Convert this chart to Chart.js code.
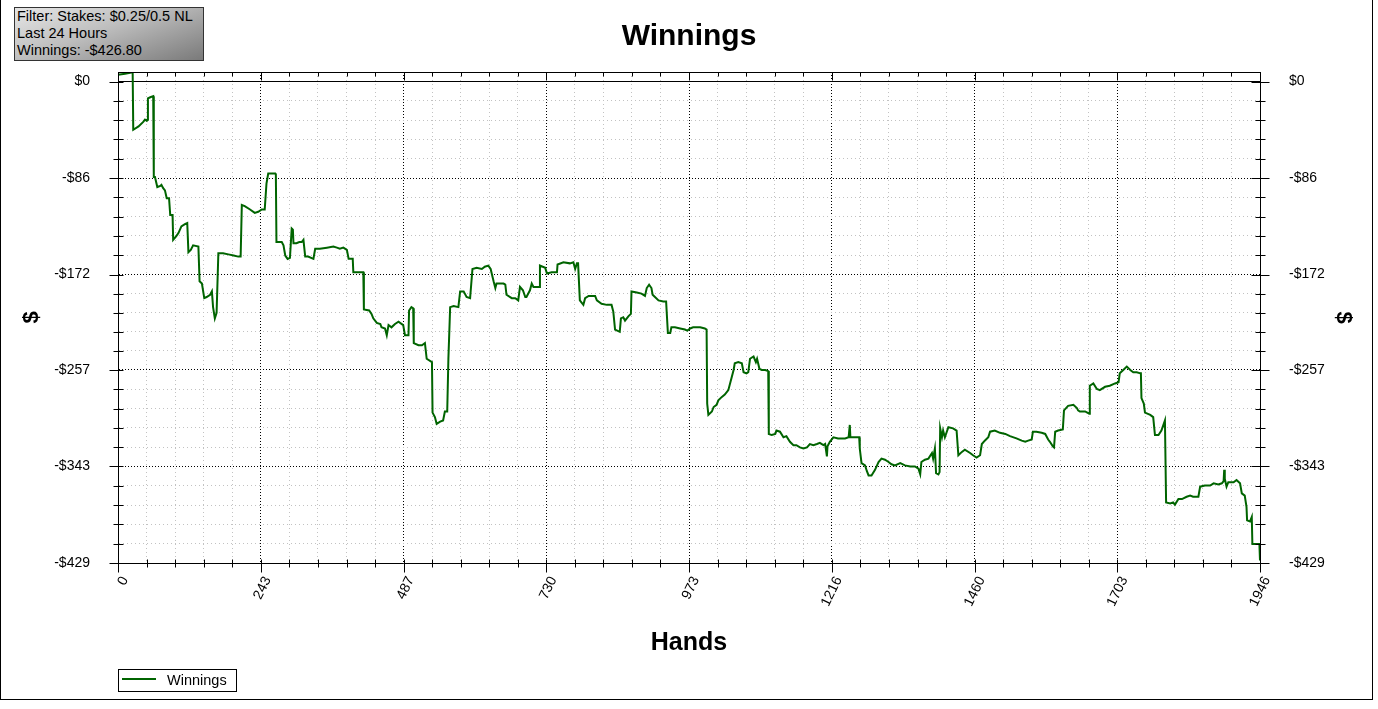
<!DOCTYPE html>
<html>
<head>
<meta charset="utf-8">
<title>Winnings</title>
<script src="https://cdn.jsdelivr.net/npm/chart.js@4.4.1/dist/chart.umd.min.js"></script>
<style>
body { margin:0; background:#fff; font-family:"Liberation Sans", Arial, sans-serif; }
#wrap { position:relative; width:1378px; height:709px; overflow:hidden; background:#fff; }
#chart { display:block; }
#frame { position:absolute; left:0; top:0; width:1373px; height:700px; box-sizing:border-box; border:1px solid #000; border-top:none; pointer-events:none; }
#info { position:absolute; left:14px; top:7px; width:190px; height:54px; box-sizing:border-box; border:1px solid #333;
        background:linear-gradient(160deg, #e6e6e6 0%, #bdbdbd 45%, #7a7a7a 100%);
        font-size:14.5px; line-height:17px; padding-left:2px; color:#000; white-space:nowrap; }
#legend { position:absolute; left:118px; top:669px; width:119px; height:23px; box-sizing:border-box; border:1px solid #000; background:#fff; }
#legend .swatch { position:absolute; left:3px; top:8px; width:34px; height:2px; background:#006400; }
#legend .label { position:absolute; left:48px; top:2px; font-size:14.5px; line-height:17px; color:#000; }
</style>
</head>
<body>
<div id="wrap">
  <canvas id="chart" width="1378" height="709"></canvas>
  <div id="frame"></div>
  <div id="info">Filter: Stakes: $0.25/0.5 NL<br>Last 24 Hours<br>Winnings: -$426.80</div>
  <div id="legend"><span class="swatch"></span><span class="label">Winnings</span></div>
</div>
<script>
//data: hand number and running winnings in $
const hands = [
  0, 12, 23, 25, 26, 35, 43, 46, 49, 50, 51, 55, 60, 61, 63, 67, 72, 74, 77, 80,
  83, 87, 89, 93, 94, 99, 103, 108, 114, 118, 120, 124, 128, 137, 139, 143, 147, 151, 157, 160,
  162, 165, 168, 171, 179, 188, 197, 205, 209, 211, 216, 225, 233, 239, 245, 250, 253, 256, 268, 269,
  270, 279, 282, 285, 289, 293, 296, 298, 299, 304, 309, 313, 316, 319, 324, 333, 336, 344, 356, 367,
  373, 378, 384, 390, 393, 400, 401, 418, 419, 428, 432, 435, 441, 447, 449, 455, 458, 461, 466, 472,
  478, 486, 489, 495, 496, 500, 503, 504, 512, 518, 523, 526, 535, 536, 540, 543, 549, 554, 557, 561,
  563, 566, 572, 580, 583, 589, 594, 600, 604, 611, 620, 625, 631, 635, 640, 643, 645, 657, 660, 662,
  671, 677, 682, 685, 690, 694, 696, 702, 705, 708, 714, 718, 719, 728, 731, 739, 748, 749, 759, 770,
  776, 779, 782, 784, 787, 793, 796, 802, 813, 816, 824, 833, 841, 844, 847, 855, 857, 861, 864, 870,
  874, 875, 884, 892, 898, 901, 905, 909, 911, 915, 921, 929, 934, 937, 941, 943, 949, 958, 966, 970,
  975, 980, 992, 1000, 1003, 1004, 1006, 1012, 1015, 1020, 1023, 1029, 1034, 1040, 1046, 1049, 1051, 1057, 1063, 1066,
  1071, 1074, 1077, 1083, 1087, 1089, 1093, 1097, 1103, 1108, 1109, 1114, 1120, 1122, 1128, 1134, 1139, 1145, 1151, 1156,
  1162, 1168, 1174, 1179, 1185, 1191, 1196, 1202, 1205, 1208, 1209, 1213, 1219, 1227, 1239, 1245, 1247, 1248, 1253, 1263,
  1264, 1267, 1273, 1276, 1279, 1284, 1290, 1296, 1301, 1307, 1313, 1318, 1324, 1333, 1341, 1350, 1358, 1364, 1367, 1369,
  1375, 1381, 1387, 1389, 1392, 1394, 1398, 1400, 1401, 1404, 1406, 1409, 1415, 1423, 1429, 1432, 1438, 1443, 1452, 1457,
  1463, 1469, 1472, 1477, 1483, 1486, 1494, 1503, 1512, 1520, 1531, 1540, 1546, 1551, 1557, 1559, 1565, 1574, 1580, 1585,
  1588, 1593, 1595, 1597, 1602, 1610, 1612, 1619, 1628, 1634, 1636, 1639, 1648, 1655, 1656, 1662, 1668, 1673, 1682, 1690,
  1699, 1705, 1707, 1713, 1719, 1725, 1730, 1736, 1742, 1743, 1744, 1748, 1750, 1759, 1764, 1767, 1773, 1778, 1784, 1786,
  1793, 1798, 1801, 1807, 1813, 1821, 1827, 1832, 1841, 1844, 1852, 1861, 1867, 1875, 1881, 1884, 1885, 1886, 1889, 1892,
  1901, 1906, 1912, 1915, 1920, 1923, 1924, 1929, 1932, 1933, 1940, 1945, 1946
];
const winnings = [
  6, 7, 8, 8, -43, -40, -36, -34, -35, -34, -15, -14, -13, -85, -85, -94, -93, -92, -95, -97,
  -104, -104, -119, -119, -141, -138, -135, -129, -127, -126, -152, -150, -146, -147, -178, -180, -193, -192, -190, -187,
  -201, -211, -206, -153, -153, -154, -155, -156, -156, -110, -111, -114, -117, -116, -114, -114, -91, -82, -82, -83,
  -143, -143, -146, -155, -158, -157, -131, -132, -144, -144, -143, -143, -141, -156, -156, -158, -149, -149, -148, -147,
  -148, -149, -148, -150, -158, -158, -170, -170, -203, -204, -207, -211, -215, -216, -219, -220, -226, -217, -219, -216,
  -214, -217, -226, -226, -204, -201, -202, -233, -235, -235, -233, -247, -250, -295, -299, -305, -303, -302, -294, -294,
  -247, -201, -200, -201, -187, -187, -192, -193, -167, -166, -167, -165, -164, -167, -178, -184, -180, -180, -181, -190,
  -193, -193, -195, -183, -186, -192, -192, -186, -180, -183, -183, -183, -164, -166, -171, -170, -170, -163, -161, -162,
  -161, -167, -162, -162, -195, -199, -193, -191, -191, -195, -198, -199, -199, -205, -221, -223, -211, -210, -213, -209,
  -207, -187, -188, -189, -191, -184, -181, -184, -190, -192, -195, -196, -196, -224, -224, -219, -219, -220, -221, -222,
  -220, -219, -219, -220, -221, -287, -297, -294, -290, -288, -284, -281, -279, -275, -263, -257, -251, -250, -251, -259,
  -260, -259, -247, -245, -250, -247, -256, -257, -257, -258, -314, -315, -314, -311, -312, -317, -316, -321, -324, -324,
  -326, -327, -326, -323, -324, -323, -322, -324, -323, -334, -325, -321, -317, -318, -318, -317, -306, -317, -317, -317,
  -327, -340, -342, -347, -351, -351, -346, -339, -336, -337, -339, -341, -342, -340, -342, -343, -343, -345, -350, -339,
  -337, -336, -331, -336, -327, -349, -350, -348, -309, -317, -311, -317, -308, -309, -311, -333, -330, -328, -331, -333,
  -335, -333, -323, -320, -317, -312, -311, -313, -314, -316, -318, -320, -321, -320, -319, -312, -312, -313, -314, -319,
  -321, -325, -326, -312, -311, -310, -293, -289, -288, -291, -293, -294, -294, -296, -271, -269, -274, -275, -272, -271,
  -269, -268, -260, -257, -254, -257, -259, -259, -260, -259, -282, -287, -295, -297, -299, -315, -315, -311, -302, -375,
  -376, -375, -377, -372, -372, -370, -369, -370, -370, -361, -360, -360, -358, -359, -358, -356, -346, -354, -361, -357,
  -357, -355, -358, -367, -369, -379, -391, -392, -388, -412, -412, -412, -426.8
];

//axis tick labels
const xLabels = [0, 243, 487, 730, 973, 1216, 1460, 1703, 1946];
const yLabels = [0, -86, -172, -257, -343, -429];

const font_family = '"Liberation Sans", Arial, sans-serif';
const line_color = '#006400';

//major ticks plus four minor ticks between each pair
function with_minor(majors)
{
    let out = [];
    for (let i = 0; i < majors.length; i++)
    {
        out.push({value: majors[i], isMajor: true});
        if (i < majors.length - 1)
        {
            for (let k = 1; k < 5; k++)
            {
                out.push({value: majors[i] + (majors[i+1] - majors[i]) * k / 5, isMajor: false});
            }
        }
    }
    return out.sort((a, b) => a.value - b.value);
}

function dollar(v)
{
    return v === 0 ? '$0' : '-$' + Math.abs(v);
}

const grid_color = c => (c.tick && c.tick.isMajor) ? '#000' : '#c2c2c2';
const grid_dash = c => {
    if (!c.tick) return [];
    if (c.tick.value === 0 && c.scale.axis === 'y') return [];
    return c.tick.isMajor ? [1, 2] : [1, 3];
};

//draws the short tick marks on all four sides and the top frame line
const tick_marks = {
    id: 'tick_marks',
    afterDraw(chart)
    {
        const ctx = chart.ctx;
        const a = chart.chartArea;
        const xs = chart.scales.x;
        const ys = chart.scales.y;
        const top = Math.round(a.top) + 0.5;
        const bot = Math.round(a.bottom) + 0.5;
        const L = Math.round(a.left) + 0.5;
        const R = Math.round(a.right) + 0.5;
        ctx.save();
        ctx.strokeStyle = '#000';
        ctx.lineWidth = 1;
        ctx.beginPath();
        ctx.moveTo(L, top);
        ctx.lineTo(R, top);
        xs.ticks.forEach(t => {
            const px = Math.round(xs.getPixelForValue(t.value)) + 0.5;
            ctx.moveTo(px, top);
            ctx.lineTo(px, top + (t.isMajor ? 8 : 4));
            ctx.moveTo(px, bot - 4);
            ctx.lineTo(px, bot + (t.isMajor ? 9 : 4));
        });
        ys.ticks.forEach(t => {
            const py = Math.round(ys.getPixelForValue(t.value)) + 0.5;
            ctx.moveTo(L - (t.isMajor ? 9 : 5), py);
            ctx.lineTo(L + 5, py);
            ctx.moveTo(R - (t.isMajor ? 9 : 5), py);
            ctx.lineTo(R + (t.isMajor ? 9 : 5), py);
        });
        ctx.stroke();
        ctx.restore();
    }
};

const y_common = {
    min: -429,
    max: 8.5,
    afterBuildTicks: s => { s.ticks = with_minor(yLabels); },
    afterFit: s => { s.width = 118; }
};

new Chart(document.getElementById('chart'), {
    type: 'line',
    data: {
        datasets: [{
            label: 'Winnings',
            data: hands.map((h, i) => ({x: h, y: winnings[i]})),
            borderColor: line_color,
            backgroundColor: line_color,
            borderWidth: 2,
            pointRadius: 0,
            tension: 0,
            fill: false,
            yAxisID: 'y'
        }]
    },
    options: {
        responsive: false,
        animation: false,
        devicePixelRatio: 1,
        layout: { padding: 0 },
        plugins: {
            legend: { display: false },
            tooltip: { enabled: false },
            title: {
                display: true,
                text: 'Winnings',
                color: '#000',
                font: { family: font_family, size: 30, weight: 'bold' },
                padding: { top: 19, bottom: 17 }
            }
        },
        scales: {
            x: {
                type: 'linear',
                position: 'bottom',
                min: 0,
                max: 1946,
                afterBuildTicks: s => { s.ticks = with_minor(xLabels); },
                afterFit: s => { s.height = 146; },
                grid: { color: grid_color, lineWidth: 1, drawTicks: false },
                border: { display: true, color: '#000', width: 1, dash: grid_dash },
                ticks: {
                    autoSkip: false,
                    minRotation: 64,
                    maxRotation: 64,
                    padding: 11,
                    labelOffset: 7,
                    color: '#000',
                    font: { family: font_family, size: 14 },
                    callback: v => xLabels.includes(v) ? String(v) : ''
                },
                title: {
                    display: true,
                    text: 'Hands',
                    color: '#000',
                    font: { family: font_family, size: 25, weight: 'bold' },
                    padding: { top: 0, bottom: 51 }
                }
            },
            y: {
                ...y_common,
                position: 'left',
                grid: { color: grid_color, lineWidth: 1, drawTicks: false },
                border: { display: true, color: '#000', width: 1, dash: grid_dash },
                ticks: {
                    autoSkip: false,
                    padding: 28,
                    color: '#000',
                    font: { family: font_family, size: 14 },
                    callback: v => yLabels.includes(v) ? dollar(v) : ''
                },
                title: {
                    display: true,
                    text: '$',
                    color: '#000',
                    font: { family: font_family, size: 22, weight: 'bold' },
                    padding: { top: 19, bottom: 0 }
                }
            },
            y2: {
                ...y_common,
                position: 'right',
                grid: { drawOnChartArea: false, drawTicks: false },
                border: { display: true, color: '#000', width: 1 },
                ticks: {
                    autoSkip: false,
                    padding: 29,
                    color: '#000',
                    font: { family: font_family, size: 14 },
                    callback: v => yLabels.includes(v) ? dollar(v) : ''
                },
                title: {
                    display: true,
                    text: '$',
                    color: '#000',
                    font: { family: font_family, size: 22, weight: 'bold' },
                    padding: { top: 22, bottom: 0 }
                }
            }
        }
    },
    plugins: [tick_marks]
});
</script>
</body>
</html>
